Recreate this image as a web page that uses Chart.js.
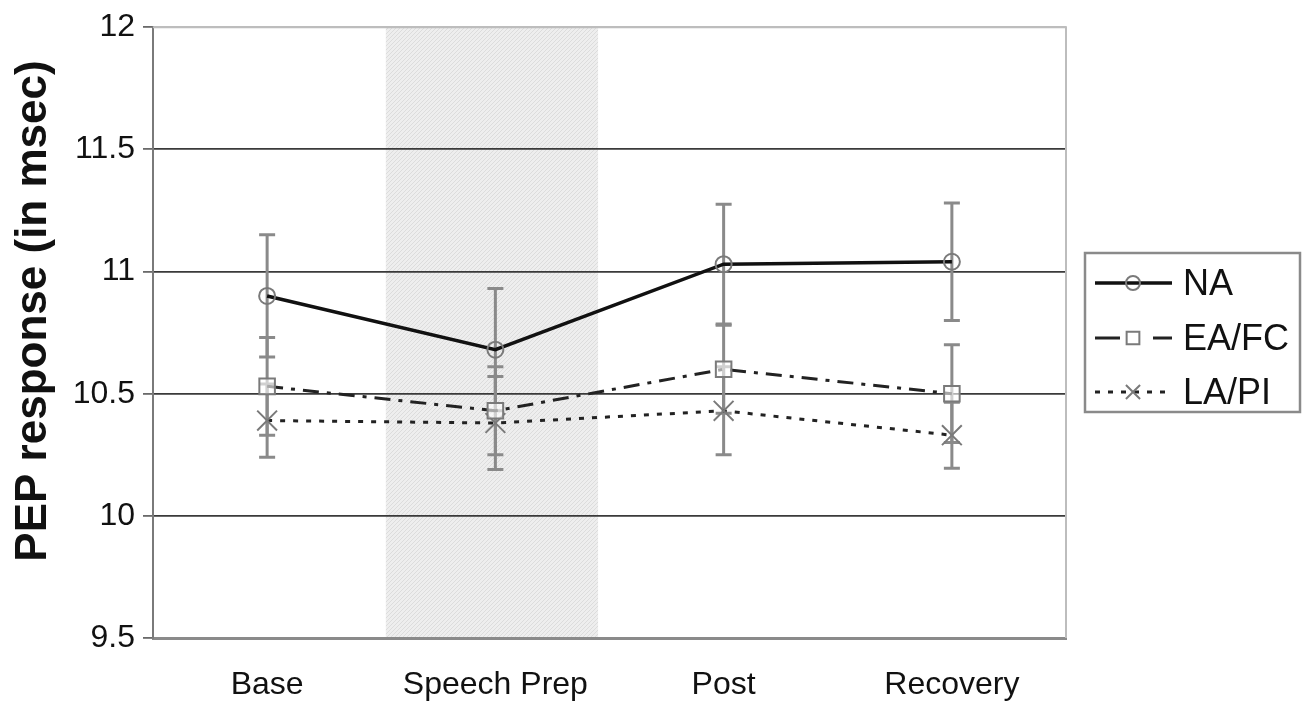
<!DOCTYPE html>
<html><head><meta charset="utf-8">
<script src="https://cdn.jsdelivr.net/npm/chart.js@4/dist/chart.umd.min.js"></script>
<style>html,body{margin:0;padding:0;background:#fff}#wrap{width:1308px;height:702px}</style>
</head><body><div id="wrap"><canvas id="c" width="1308" height="702"></canvas></div>
<script>
const categories = ['Base', 'Speech Prep', 'Post', 'Recovery'];
const naValues = [10.90, 10.68, 11.03, 11.04];
const naErr = [0.25, 0.25, 0.245, 0.24];
const eaValues = [10.53, 10.43, 10.60, 10.50];
const eaErr = [0.20, 0.18, 0.18, 0.20];
const laValues = [10.39, 10.38, 10.43, 10.33];
const laErr = [0.15, 0.19, 0.18, 0.135];
const yTickLabels = ['9.5', '10', '10.5', '11', '11.5', '12'];
const seriesNames = ['NA', 'EA/FC', 'LA/PI'];
const yTitle = 'PEP response (in msec)';
const shadedCategory = 1;

const FONT = '"Liberation Sans", Arial, sans-serif';

function makePattern(ctx) {
  const p = document.createElement('canvas');
  p.width = 4; p.height = 4;
  const g = p.getContext('2d');
  g.fillStyle = '#eeeeee'; g.fillRect(0, 0, 4, 4);
  g.fillStyle = '#dcdcdc';
  g.fillRect(0, 3, 1, 1); g.fillRect(1, 2, 1, 1); g.fillRect(2, 1, 1, 1); g.fillRect(3, 0, 1, 1);
  return ctx.createPattern(p, 'repeat');
}

const bandPlugin = {
  id: 'band',
  beforeDraw(chart) {
    const {ctx, chartArea, scales} = chart;
    const x0 = scales.x.getPixelForValue(shadedCategory - 0.48);
    const x1 = scales.x.getPixelForValue(shadedCategory + 0.45);
    ctx.save();
    ctx.fillStyle = makePattern(ctx);
    ctx.fillRect(x0, chartArea.top, x1 - x0, chartArea.bottom - chartArea.top);
    ctx.restore();
  },
  afterDraw(chart) {
    const {ctx, chartArea} = chart;
    ctx.save();
    ctx.strokeStyle = '#bdbdbd'; ctx.lineWidth = 2;
    ctx.beginPath();
    ctx.moveTo(chartArea.left, chartArea.top);
    ctx.lineTo(chartArea.right, chartArea.top);
    ctx.lineTo(chartArea.right, chartArea.bottom);
    ctx.stroke();
    // y axis title
    ctx.translate(34, 311);
    ctx.rotate(-Math.PI / 2);
    ctx.fillStyle = '#111';
    ctx.font = 'bold 44px ' + FONT;
    ctx.textAlign = 'center';
    ctx.textBaseline = 'middle';
    ctx.fillText(yTitle, 0, 0);
    ctx.restore();
  }
};

const errPlugin = {
  id: 'errbars',
  beforeDatasetsDraw(chart) {
    const {ctx, scales} = chart;
    ctx.save();
    ctx.strokeStyle = '#8a8a8a';
    ctx.lineWidth = 3;
    chart.data.datasets.forEach(ds => {
      ds.values.forEach((v, i) => {
        const x = scales.x.getPixelForValue(i);
        const yt = scales.y.getPixelForValue(v + ds.err[i]);
        const yb = scales.y.getPixelForValue(v - ds.err[i]);
        ctx.beginPath();
        ctx.moveTo(x, yt); ctx.lineTo(x, yb);
        ctx.moveTo(x - 8, yt); ctx.lineTo(x + 8, yt);
        ctx.moveTo(x - 8, yb); ctx.lineTo(x + 8, yb);
        ctx.stroke();
      });
    });
    ctx.restore();
  }
};

const legendPlugin = {
  id: 'boxLegend',
  afterDraw(chart) {
    const {ctx} = chart;
    const bx = 1085, by = 253, bw = 215, bh = 159;
    ctx.save();
    ctx.strokeStyle = '#8a8a8a'; ctx.lineWidth = 2.5;
    ctx.strokeRect(bx, by, bw, bh);
    const rows = [283, 338, 392];
    const radii = [7, 9, 10];
    chart.data.datasets.forEach((ds, i) => {
      const y = rows[i];
      ctx.strokeStyle = ds.borderColor;
      ctx.lineWidth = ds.borderWidth;
      ctx.setLineDash(ds.legendDash || []);
      ctx.beginPath(); ctx.moveTo(1095, y); ctx.lineTo(1172, y); ctx.stroke();
      ctx.setLineDash([]);
      ctx.strokeStyle = ds.pointBorderColor;
      ctx.fillStyle = i === 1 ? '#ffffff' : 'rgba(0,0,0,0)';
      ctx.lineWidth = 2;
      Chart.helpers.drawPoint(ctx, {pointStyle: ds.pointStyle, radius: radii[i], rotation: 0, borderWidth: 2}, 1133, y);
      ctx.fillStyle = '#111';
      ctx.font = '36px ' + FONT;
      ctx.textBaseline = 'middle';
      ctx.textAlign = 'left';
      ctx.fillText(ds.label, 1183, y + 2);
    });
    ctx.restore();
  }
};

new Chart(document.getElementById('c'), {
  type: 'line',
  data: {
    labels: categories,
    datasets: [
      {label: seriesNames[0], data: naValues, values: naValues, err: naErr,
       borderColor: '#111', borderWidth: 3.5, tension: 0,
       pointStyle: 'circle', pointRadius: 8, pointBorderColor: '#7a7a7a', pointBackgroundColor: 'rgba(0,0,0,0)', pointBorderWidth: 2},
      {label: seriesNames[1], data: eaValues, values: eaValues, err: eaErr,
       borderColor: '#222', borderWidth: 3, borderDash: [16, 8, 4, 8], legendDash: [25, 33, 19],
       tension: 0, pointStyle: 'rect', pointRadius: 11, pointBorderColor: '#7a7a7a', pointBackgroundColor: 'rgba(255,255,255,0.6)', pointBorderWidth: 2},
      {label: seriesNames[2], data: laValues, values: laValues, err: laErr,
       borderColor: '#222', borderWidth: 3, borderDash: [5, 8], legendDash: [5, 8],
       tension: 0, pointStyle: 'crossRot', pointRadius: 14, pointBorderColor: '#7a7a7a', pointBorderWidth: 2}
    ]
  },
  options: {
    responsive: false,
    animation: false,
    devicePixelRatio: 1,
    layout: {padding: {top: 24, right: 242, left: 0, bottom: 0}},
    plugins: {legend: {display: false}, tooltip: {enabled: false}},
    scales: {
      x: {
        offset: true,
        afterFit(s) { s.height = 64; },
        grid: {display: false, drawTicks: false, offset: true},
        border: {display: true, color: '#8a8a8a', width: 3},
        ticks: {color: '#111', font: {family: FONT, size: 32}, padding: 28, maxRotation: 0}
      },
      y: {
        min: 9.5, max: 12,
        afterFit(s) { s.width = 153; },
        afterBuildTicks(s) { s.ticks = yTickLabels.map(t => ({value: parseFloat(t)})); },
        ticks: {color: '#111', font: {family: FONT, size: 32}, padding: 8,
                callback: (v) => yTickLabels.find(t => parseFloat(t) === v)},
        grid: {color: (c) => (c.tick && c.tick.value === 12) ? '#bdbdbd' : '#3a3a3a',
               tickColor: '#6a6a6a', lineWidth: 1.8, tickLength: 10, drawTicks: true},
        border: {display: true, color: '#7a7a7a', width: 2},
        title: {display: false}
      }
    }
  },
  plugins: [bandPlugin, errPlugin, legendPlugin]
});
</script></body></html>
